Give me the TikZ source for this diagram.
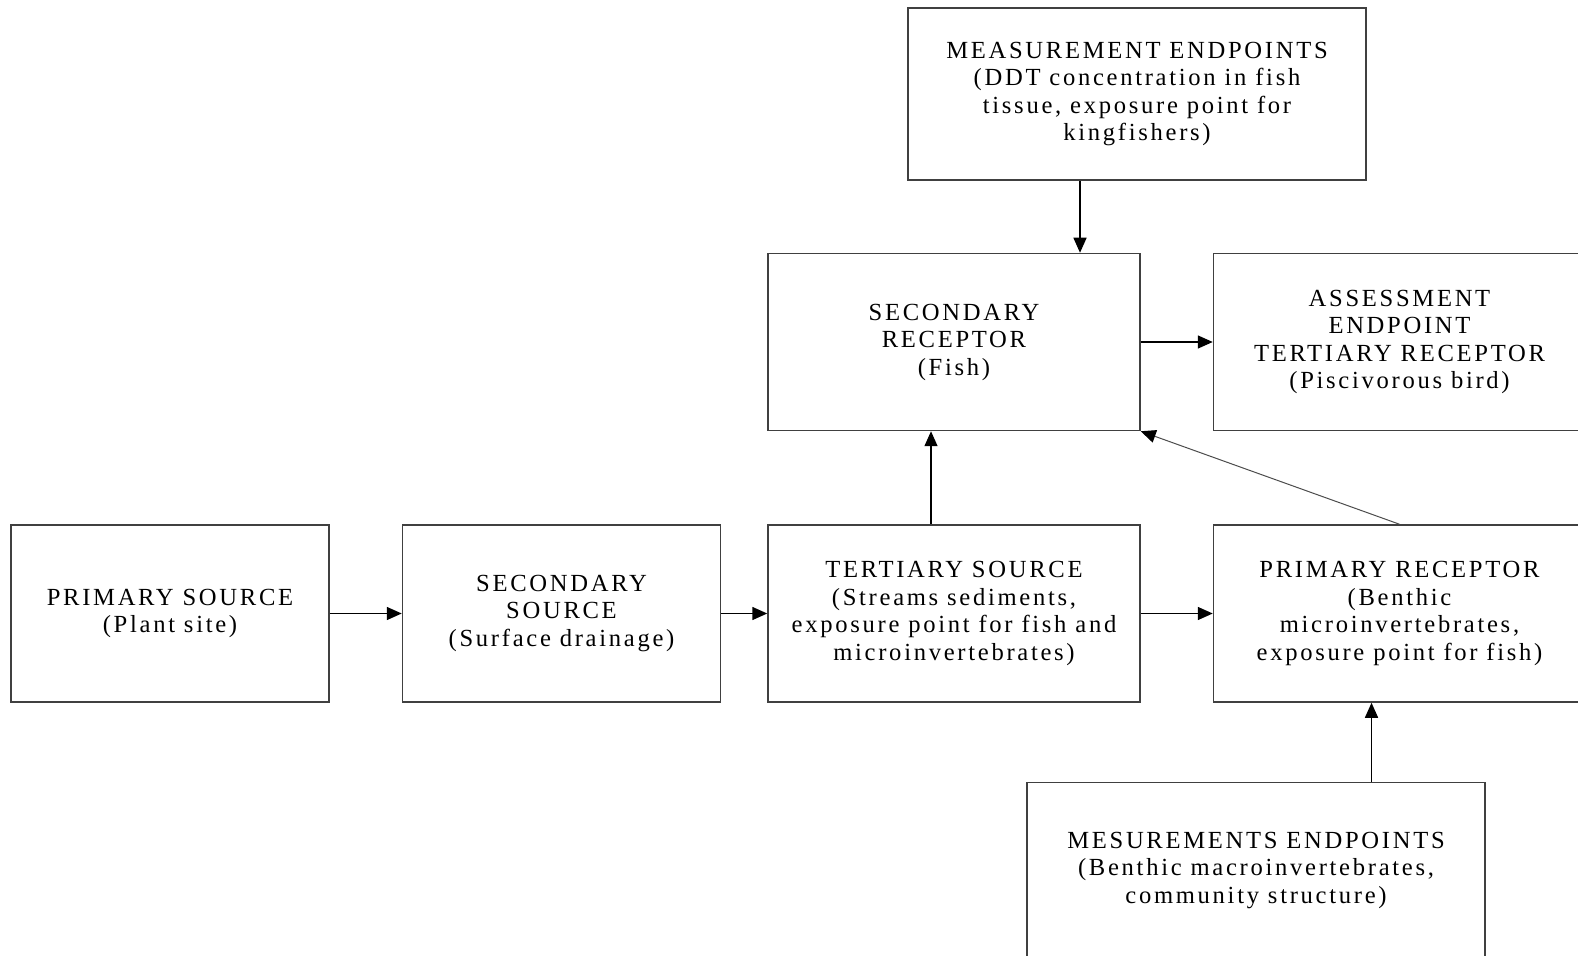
\documentclass[tikz,border=0pt]{standalone}
\usepackage{fontspec}
\setmainfont{Liberation Serif}[LetterSpace=11]
\usetikzlibrary{positioning,arrows.meta}
\tikzstyle{smallbox} = [rectangle, minimum width=159pt, minimum height=88.5pt, text centered, align=center, draw=black!75, line width=0.75pt, font=\fontsize{12.3}{13.75}\selectfont]
\tikzstyle{widebox} = [smallbox, minimum width=186pt]
\tikzstyle{endbox} = [smallbox, minimum width=229pt, minimum height=86pt]
\tikzstyle{arrow} = [line width=0.75pt,->,>={Triangle[length=7.5pt,width=6.5pt,black]}]

\begin{document}
\begin{tikzpicture}[node distance=36pt]
\useasboundingbox (0,0) rectangle (789pt,-478pt);
\node (psrc) [smallbox] at (85pt,-306.75pt) {PRIMARY SOURCE\\(Plant site)};
\node (ssrc) [smallbox, right=of psrc] {SECONDARY\\SOURCE\\(Surface drainage)};
\node (tsrc) [widebox, right=23pt of ssrc] {TERTIARY SOURCE\\(Streams sediments,\\exposure point for fish and\\microinvertebrates)};
\node (prec) [widebox, right=of tsrc] {PRIMARY RECEPTOR\\(Benthic\\microinvertebrates,\\exposure point for fish)};
\node (srec) [widebox, above=46.5pt of tsrc] {SECONDARY\\RECEPTOR\\(Fish)};
\node (arec) [widebox, right=of srec] {ASSESSMENT\\ENDPOINT\\TERTIARY RECEPTOR\\(Piscivorous bird)};
\node (mep1) [endbox, above=of srec, xshift=91.5pt] {MEASUREMENT ENDPOINTS\\(DDT concentration in fish\\tissue, exposure point for\\kingfishers)};
\node (mep2) [endbox, below=39.5pt of prec, xshift=-71.75pt, minimum height=88pt] {MESUREMENTS ENDPOINTS\\(Benthic macroinvertebrates,\\community structure)};

\draw [arrow] (psrc) -- (ssrc);
\draw [arrow] (ssrc) -- (tsrc);
\draw [arrow] (tsrc) -- (prec);
\draw [arrow] (srec) -- (arec);
\draw [arrow] ([xshift=-11.5pt]tsrc.north) -- ([xshift=-11.5pt]srec.south);
\draw [arrow] ([xshift=-28.5pt]mep1.south) -- ([xshift=-28.5pt]mep1.south |- srec.north);
\draw [arrow] ([xshift=57.75pt]mep2.north) -- ([xshift=57.75pt]mep2.north |- prec.south);
\draw [arrow, line width=0.5pt, draw=black!70] (prec.north) -- (srec.south east);

\end{tikzpicture}
\end{document}
